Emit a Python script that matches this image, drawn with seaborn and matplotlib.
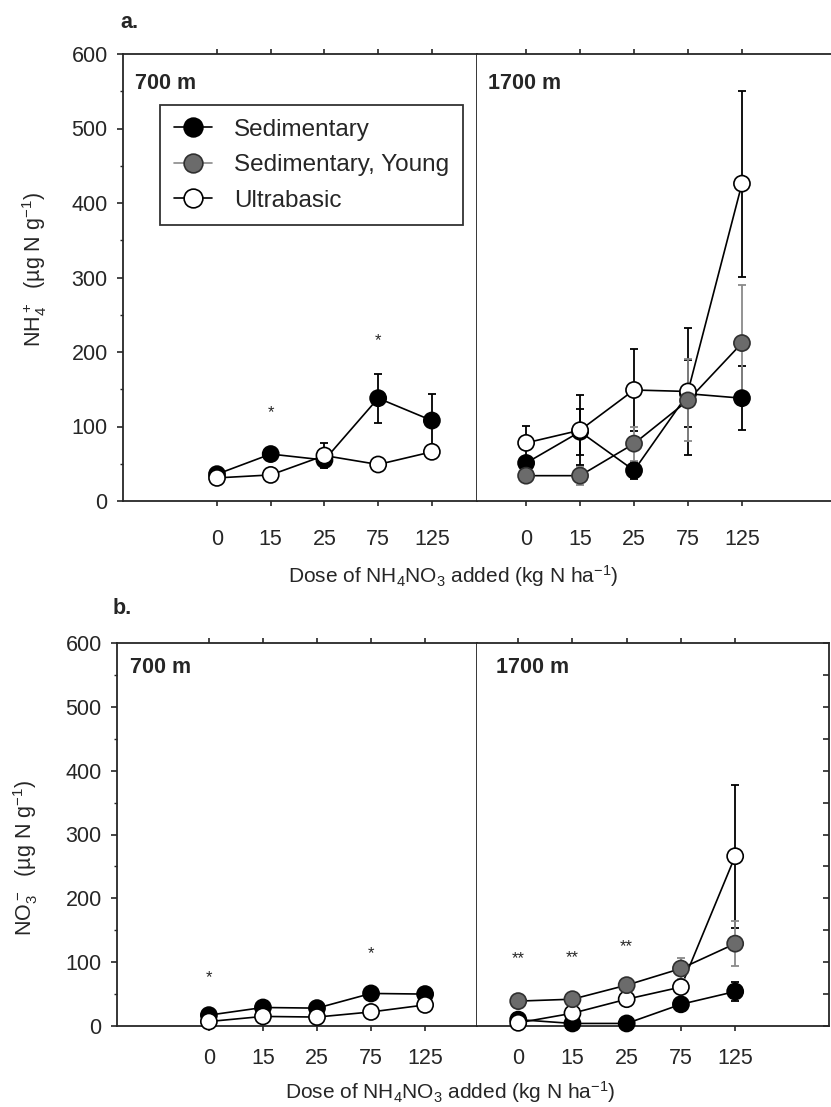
import numpy as np
import pandas as pd
import matplotlib
matplotlib.use("Agg")
import matplotlib.pyplot as plt
import seaborn as sns
from matplotlib.lines import Line2D
from matplotlib.ticker import MultipleLocator

# ---------------- data ----------------
doses = ["0", "15", "25", "75", "125"]
sites = ["700 m", "1700 m"]
series_names = ["Sedimentary", "Sedimentary, Young", "Ultrabasic"]

# NH4+ (ug N g-1)
nh4_700_sed = [36, 63, 55, 138, 108]
nh4_700_sed_se = [4, 8, 5, 33, 35]
nh4_700_ult = [31, 35, 61, 49, 66]
nh4_700_ult_se = [3, 4, 17, 4, 5]

nh4_1700_sed = [51, 93, 41, 144, 138]
nh4_1700_sed_se = [8, 31, 12, 45, 43]
nh4_1700_yng = [34, 34, 77, 135, 212]
nh4_1700_yng_se = [6, 12, 23, 55, 78]
nh4_1700_ult = [78, 95, 149, 147, 426]
nh4_1700_ult_se = [23, 47, 55, 85, 125]

# NO3- (ug N g-1)
no3_700_sed = [17, 29, 28, 51, 50]
no3_700_sed_se = [3, 3, 3, 5, 5]
no3_700_ult = [7, 15, 14, 22, 33]
no3_700_ult_se = [2, 2, 2, 3, 3]

no3_1700_sed = [10, 4, 4, 34, 54]
no3_1700_sed_se = [3, 2, 2, 5, 15]
no3_1700_yng = [39, 42, 64, 90, 129]
no3_1700_yng_se = [3, 3, 4, 17, 35]
no3_1700_ult = [5, 20, 42, 61, 266]
no3_1700_ult_se = [2, 3, 4, 5, 112]

# significance marks: (site, dose, height, label)
nh4_stars = [("700 m", "15", 118, "*"), ("700 m", "75", 215, "*")]
no3_stars = [("700 m", "0", 75, "*"), ("700 m", "75", 113, "*"),
             ("1700 m", "0", 105, "**"), ("1700 m", "15", 107, "**"),
             ("1700 m", "25", 124, "**")]

# ---------------- long table ----------------
rows = []
def add(panel, site, ser, vals, ses):
    for i, (d, v, e) in enumerate(zip(doses, vals, ses)):
        rows.append(dict(panel=panel, site=site, series=ser, dose=d, pos=i, value=v, se=e))

add("NH4", "700 m", "Sedimentary", nh4_700_sed, nh4_700_sed_se)
add("NH4", "700 m", "Ultrabasic", nh4_700_ult, nh4_700_ult_se)
add("NH4", "1700 m", "Sedimentary", nh4_1700_sed, nh4_1700_sed_se)
add("NH4", "1700 m", "Sedimentary, Young", nh4_1700_yng, nh4_1700_yng_se)
add("NH4", "1700 m", "Ultrabasic", nh4_1700_ult, nh4_1700_ult_se)
add("NO3", "700 m", "Sedimentary", no3_700_sed, no3_700_sed_se)
add("NO3", "700 m", "Ultrabasic", no3_700_ult, no3_700_ult_se)
add("NO3", "1700 m", "Sedimentary", no3_1700_sed, no3_1700_sed_se)
add("NO3", "1700 m", "Sedimentary, Young", no3_1700_yng, no3_1700_yng_se)
add("NO3", "1700 m", "Ultrabasic", no3_1700_ult, no3_1700_ult_se)
df = pd.DataFrame(rows)

# ---------------- style ----------------
sns.set_style("ticks")
plt.rcParams["font.family"] = ["Liberation Sans", "DejaVu Sans"]
plt.rcParams["mathtext.default"] = "regular"
plt.rcParams["axes.linewidth"] = 1.3

face = {"Sedimentary": "black", "Sedimentary, Young": "#6b6b6b", "Ultrabasic": "white"}
edge = {"Sedimentary": "black", "Sedimentary, Young": "#303030", "Ultrabasic": "black"}
errc = {"Sedimentary": "black", "Sedimentary, Young": "#8a8a8a", "Ultrabasic": "black"}
draw_order = ["Sedimentary", "Ultrabasic", "Sedimentary, Young"]

FS = 15.5
W, H = 831, 1107
fig = plt.figure(figsize=(W / 100, H / 100), dpi=100)

def fx(px): return px / W
def fy(py): return 1 - py / H

# panel geometry in pixels: left spine, divider, right edge, top, bottom
geo = {
    "NH4": dict(l=123, d=477, r=831, t=54, b=501,
                xl_left=(-1.75, 4.84), xl_right=(-0.91, 5.65)),
    "NO3": dict(l=117, d=477, r=829, t=643, b=1026,
                xl_left=(-1.70, 4.96), xl_right=(-0.76, 5.73)),
}

def draw(ax, d):
    present = [s for s in draw_order if s in set(d.series)]
    sns.lineplot(data=d, x="pos", y="value", hue="series", hue_order=present,
                 palette={s: "black" for s in present}, estimator=None,
                 legend=False, ax=ax, linewidth=1.2, zorder=2)
    for s in present:
        sub = d[d.series == s]
        ax.errorbar(sub.pos, sub.value, yerr=sub.se, fmt="none", ecolor=errc[s],
                    elinewidth=1.3, capsize=3, capthick=1.3, zorder=2.5, clip_on=False)
    d2 = d.assign(o=d.series.map(draw_order.index)).sort_values(["o", "pos"])
    sns.scatterplot(data=d2, x="pos", y="value", hue="series", hue_order=present,
                    palette={s: face[s] for s in present},
                    edgecolor=[edge[s] for s in d2.series], linewidth=1.2,
                    s=135, legend=False, ax=ax, zorder=3, clip_on=False)

axes = {}
for panel, g in geo.items():
    hgt = (g["b"] - g["t"]) / H
    axL = fig.add_axes([fx(g["l"]), fy(g["b"]), (g["d"] - g["l"]) / W, hgt])
    axR = fig.add_axes([fx(g["d"]), fy(g["b"]), (g["r"] - g["d"]) / W, hgt])
    axes[panel] = (axL, axR)
    for ax, site, xl in [(axL, "700 m", g["xl_left"]), (axR, "1700 m", g["xl_right"])]:
        d = df[(df.panel == panel) & (df.site == site)]
        draw(ax, d)
        ax.set_xlim(*xl)
        ax.set_ylim(0, 600)
        ax.set_xticks(range(len(doses)))
        ax.set_xticklabels(doses)
        ax.set_xlabel("")
        ax.set_ylabel("")
        pad = 17 if panel == "NH4" else 12
        ax.tick_params(axis="x", which="both", direction="out", length=3.5, width=1.2,
                       top=True, bottom=True, labeltop=False, labelsize=FS, pad=pad)
        tx = 0.035 if site == "700 m" else (0.03 if panel == "NH4" else 0.055)
        ax.text(tx, 0.935, site, transform=ax.transAxes,
                fontsize=FS, fontweight="bold", ha="left", va="center")
        for sp in ax.spines.values():
            sp.set_linewidth(1.3)
    # left axis y ticks
    axL.yaxis.set_major_locator(MultipleLocator(100))
    axL.yaxis.set_minor_locator(MultipleLocator(50))
    axL.tick_params(axis="y", which="major", direction="out", length=4, width=1.2,
                    labelsize=FS, pad=7)
    axL.tick_params(axis="y", which="minor", direction="out", length=2.5, width=1.0)
    axL.spines["right"].set_visible(True)
    axR.spines["left"].set_visible(False)
    if panel == "NH4":
        axR.spines["right"].set_visible(False)
        axR.tick_params(axis="y", which="both", left=False, right=False,
                        labelleft=False, labelright=False)
    else:
        axR.yaxis.set_major_locator(MultipleLocator(50))
        axR.tick_params(axis="y", which="both", left=False, right=True, direction="in",
                        length=4, width=1.2, labelleft=False, labelright=False)

# significance stars
for panel, stars in [("NH4", nh4_stars), ("NO3", no3_stars)]:
    axL, axR = axes[panel]
    for site, dose, yv, lab in stars:
        ax = axL if site == "700 m" else axR
        ax.text(doses.index(dose), yv, lab, ha="center", va="center", fontsize=12)

# legend
handles = [Line2D([0], [0], color=("black" if s != "Sedimentary, Young" else "#8a8a8a"),
                  lw=1.2, marker="o", markersize=13.5, markerfacecolor=face[s],
                  markeredgecolor=edge[s], markeredgewidth=1.2, label=s)
           for s in series_names]
axL = axes["NH4"][0]
leg = axL.legend(handles=handles, loc="upper left", bbox_to_anchor=(0.105, 0.885),
                 frameon=True, fancybox=False, fontsize=17.5, handlelength=1.6,
                 borderpad=0.55, labelspacing=0.55, handletextpad=0.9,
                 borderaxespad=0)
leg.get_frame().set_edgecolor("black")
leg.get_frame().set_linewidth(1.3)

# labels
fig.text(fx(120), fy(23), "a.", fontsize=FS, fontweight="bold", ha="left", va="center")
fig.text(fx(113), fy(609), "b.", fontsize=FS, fontweight="bold", ha="left", va="center")
fig.text(fx(35), fy(269), r"NH$_4^+$  (µg N g$^{-1}$)", rotation=90, fontsize=FS,
         ha="center", va="center")
fig.text(fx(26), fy(858), r"NO$_3^-$  (µg N g$^{-1}$)", rotation=90, fontsize=FS,
         ha="center", va="center")
fig.text(fx(453), fy(576), r"Dose of NH$_4$NO$_3$ added (kg N ha$^{-1}$)", fontsize=15,
         ha="center", va="center")
fig.text(fx(450), fy(1092), r"Dose of NH$_4$NO$_3$ added (kg N ha$^{-1}$)", fontsize=15,
         ha="center", va="center")

fig.savefig("out.png", dpi=100)
